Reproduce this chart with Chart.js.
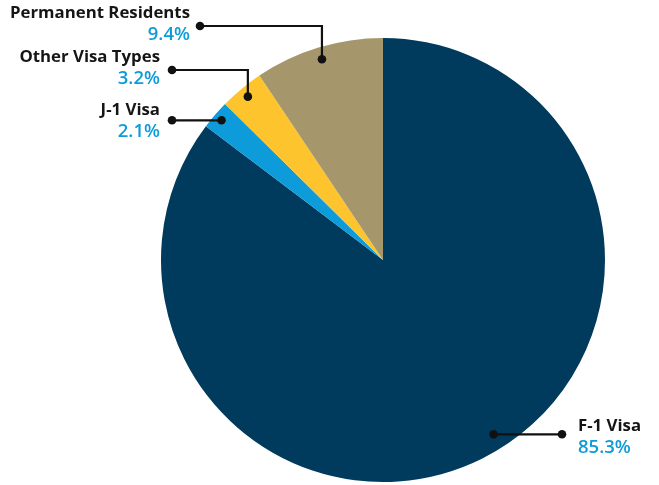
<!DOCTYPE html>
<html>
<head>
<meta charset="utf-8">
<script src="https://cdn.jsdelivr.net/npm/chart.js@4"></script>
<style>
html,body{margin:0;padding:0;background:#fff;}
#wrap{width:659px;height:485px;position:relative;}
</style>
</head>
<body>
<div id="wrap"><canvas id="c"></canvas></div>
<script>
const categories = ["F-1 Visa", "J-1 Visa", "Other Visa Types", "Permanent Residents"];
const values = [85.3, 2.1, 3.2, 9.4];
const valueLabels = ["85.3%", "2.1%", "3.2%", "9.4%"];
const colors = ["#003a5c", "#0d9bd9", "#fdc42e", "#a6966b"];

// label layout: text anchor x, text alignment, dot x, line y (null = anchor y), angle override (deg from top)
const labelLayout = [
  {tx: 578, align: "left", dotX: 562, lineY: null, angleDeg: 147.6, rFrac: 0.93, ty: 426},
  {tx: 160, align: "right", dotX: 172, lineY: null, angleDeg: null, rFrac: 0.962, ty: 110},
  {tx: 160, align: "right", dotX: 172, lineY: 70, angleDeg: null, rFrac: 0.955, ty: 57},
  {tx: 190, align: "right", dotX: 200, lineY: 26, angleDeg: null, rFrac: 0.945, ty: 13}
];

const leaderPlugin = {
  id: "leaders",
  afterDatasetsDraw(chart) {
    const ctx = chart.ctx;
    const meta = chart.getDatasetMeta(0);
    meta.data.forEach((arc, i) => {
      const L = labelLayout[i];
      const p = arc.getProps(["x", "y", "startAngle", "endAngle", "outerRadius"], true);
      let ang = L.angleDeg !== null ? (L.angleDeg - 90) * Math.PI / 180 : (p.startAngle + p.endAngle) / 2;
      const r = p.outerRadius * L.rFrac;
      const ax = p.x + Math.cos(ang) * r;
      const ay = p.y + Math.sin(ang) * r;
      const ly = L.lineY === null ? ay : L.lineY;
      ctx.save();
      ctx.strokeStyle = "#111";
      ctx.lineWidth = 2.2;
      ctx.beginPath();
      ctx.moveTo(L.dotX, ly);
      ctx.lineTo(ax, ly);
      ctx.lineTo(ax, ay);
      ctx.stroke();
      ctx.fillStyle = "#111";
      [[L.dotX, ly], [ax, ay]].forEach(([x, y]) => {
        ctx.beginPath();
        ctx.arc(x, y, 4.3, 0, Math.PI * 2);
        ctx.fill();
      });
      ctx.textAlign = L.align;
      ctx.textBaseline = "middle";
      ctx.font = "bold 16.8px 'Open Sans'";
      ctx.fillStyle = "#151515";
      ctx.fillText(categories[i], L.tx, L.ty);
      ctx.font = "600 18.5px 'Open Sans'";
      ctx.fillStyle = "#0d9bd9";
      ctx.fillText(valueLabels[i], L.tx, L.ty + 22);
      ctx.restore();
    });
  }
};

new Chart(document.getElementById("c"), {
  type: "pie",
  data: {
    labels: categories,
    datasets: [{
      data: values,
      backgroundColor: colors,
      borderWidth: 0
    }]
  },
  options: {
    responsive: true,
    maintainAspectRatio: false,
    animation: false,
    layout: {padding: {top: 38, bottom: 3, left: 161, right: 54}},
    plugins: {legend: {display: false}, tooltip: {enabled: false}}
  },
  plugins: [leaderPlugin]
});
</script>
</body>
</html>
